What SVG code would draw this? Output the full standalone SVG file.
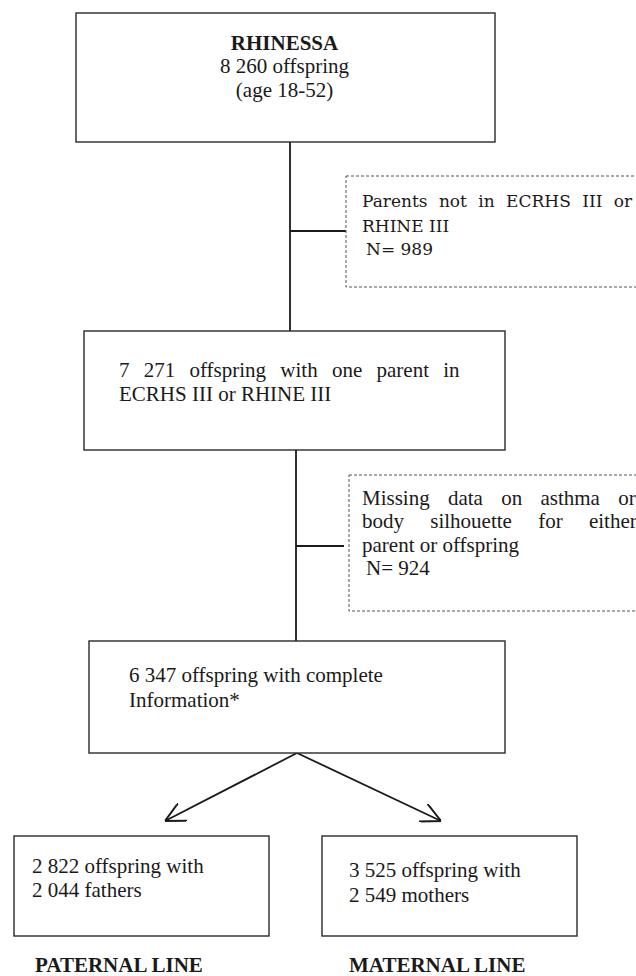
<svg xmlns="http://www.w3.org/2000/svg" width="636" height="976" viewBox="0 0 636 976">
<style>
  .box { fill: #fff; stroke: #2a2a2a; stroke-width: 1.4; }
  .dash { fill: #fff; stroke: #555; stroke-width: 1; stroke-dasharray: 3 2; }
  .line { stroke: #1a1a1a; stroke-width: 1.8; fill: none; }
  .t { font-family: "Liberation Serif", "Times New Roman", serif; font-size: 21px; fill: #1a1a1a; }
  .c { font-family: "DejaVu Serif", "Liberation Serif", serif; font-size: 17px; fill: #1a1a1a; }
  .b { font-weight: bold; }
</style>
<defs>
  <marker id="arr" viewBox="0 0 10 10" refX="10" refY="5" markerWidth="20" markerHeight="20" markerUnits="userSpaceOnUse" orient="auto">
    <path d="M0,0 L10,5 L0,10" fill="none" stroke="#1a1a1a" stroke-width="1"/>
  </marker>
</defs>
<rect width="636" height="976" fill="#fff"/>
<g id="connectors">
  <line class="line" x1="290" y1="142" x2="290" y2="331"/>
  <line class="line" x1="290" y1="231" x2="346" y2="231"/>
  <line class="line" x1="296" y1="450" x2="296" y2="641"/>
  <line class="line" x1="296" y1="546" x2="344" y2="546"/>
  <line class="line" x1="297" y1="753" x2="165" y2="821" marker-end="url(#arr)"/>
  <line class="line" x1="297" y1="753" x2="441" y2="821" marker-end="url(#arr)"/>
</g>
<g id="node-rhinessa">
  <rect class="box" x="76" y="13" width="419" height="129"/>
  <text class="t b" x="284.5" y="50" text-anchor="middle">RHINESSA</text>
  <text class="t" x="284.5" y="73" text-anchor="middle">8 260 offspring</text>
  <text class="t" x="284.5" y="97" text-anchor="middle">(age 18-52)</text>
</g>
<g id="node-excl1">
  <rect class="dash" x="346" y="176" width="300" height="111"/>
  <text class="c" x="362" y="207" word-spacing="6">Parents not in ECRHS III or</text>
  <text class="c" x="362" y="232">RHINE III</text>
  <text class="c" x="366" y="255">N= 989</text>
</g>
<g id="node-7271">
  <rect class="box" x="84" y="331" width="421" height="119"/>
  <text class="t" x="119" y="377" word-spacing="9">7 271 offspring with one parent in</text>
  <text class="t" x="119" y="401">ECRHS III or RHINE III</text>
</g>
<g id="node-excl2">
  <rect class="dash" x="349" y="475" width="300" height="136"/>
  <text class="t" x="362" y="505" word-spacing="13">Missing data on asthma or</text>
  <text class="t" x="362" y="528" word-spacing="21">body silhouette for either</text>
  <text class="t" x="362" y="552">parent or offspring</text>
  <text class="t" x="366" y="575">N= 924</text>
</g>
<g id="node-6347">
  <rect class="box" x="89" y="641" width="416" height="112"/>
  <text class="t" x="129" y="682">6 347 offspring with complete</text>
  <text class="t" x="129" y="707">Information*</text>
</g>
<g id="node-paternal">
  <rect class="box" x="14" y="836" width="255" height="100"/>
  <text class="t" x="32" y="873">2 822 offspring with</text>
  <text class="t" x="32" y="897">2 044 fathers</text>
</g>
<g id="node-maternal">
  <rect class="box" x="322" y="836" width="255" height="100"/>
  <text class="t" x="349" y="877">3 525 offspring with</text>
  <text class="t" x="349" y="902">2 549 mothers</text>
</g>
<text class="t b" x="35" y="972">PATERNAL LINE</text>
<text class="t b" x="349" y="972">MATERNAL LINE</text>
</svg>
